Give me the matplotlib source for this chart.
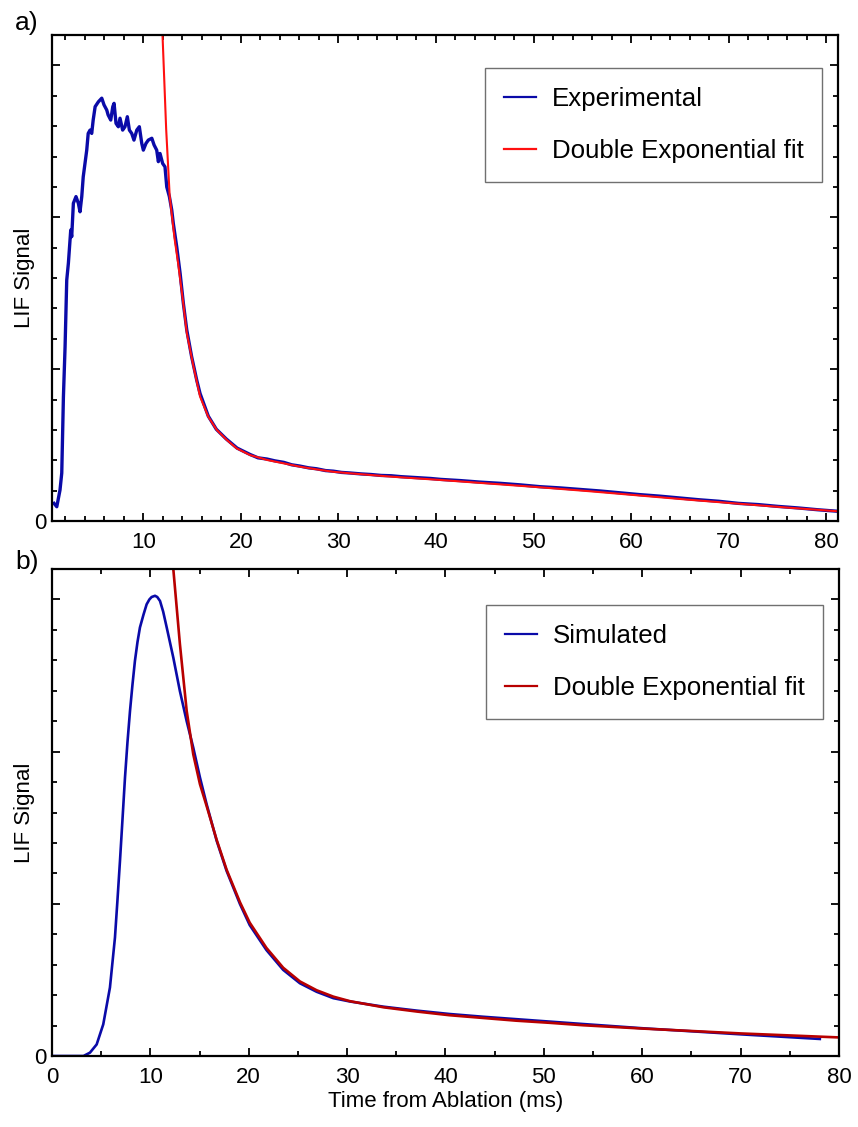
import matplotlib
matplotlib.use("Agg")
import matplotlib.pyplot as plt
from matplotlib.ticker import MultipleLocator, FixedLocator

plt.rcParams["font.family"] = ["Liberation Sans", "DejaVu Sans"]
plt.rcParams["font.size"] = 16

# ---- panel a: experimental trace (time in ms, arbitrary LIF units) ----
exp_t = [0.86, 1.14, 1.47, 1.65, 1.82, 1.99, 2.16, 2.33, 2.57, 2.67, 2.84, 3.11, 3.35,
         3.52, 3.70, 3.85, 4.21, 4.36, 4.55, 4.72, 4.87, 5.07, 5.40, 5.75, 5.98, 6.26,
         6.40, 6.67, 6.88, 7.01, 7.21, 7.45, 7.62, 7.89, 8.13, 8.37, 8.58, 8.82, 9.05,
         9.34, 9.60, 9.85, 10.01, 10.28, 10.52, 10.88, 11.11, 11.38, 11.55, 11.72,
         11.99, 12.23, 12.41, 12.68, 12.92, 13.08, 13.43, 13.78, 14.11, 14.46, 14.96,
         15.48, 15.82, 16.67, 17.49, 18.51, 19.62, 20.95, 21.76, 22.68, 23.49, 24.41,
         25.22, 26.03, 26.95, 27.76, 28.68, 29.49, 30.31, 31.22, 32.34, 33.36, 34.38,
         35.4, 36.41, 37.43, 38.45, 39.46, 40.48, 42.52, 44.55, 46.59, 48.62, 50.66,
         52.69, 54.73, 56.76, 58.8, 60.83, 62.87, 64.9, 66.94, 68.97, 71.0, 73.04,
         75.07, 77.11, 79.14, 81.18]
exp_y = [0.58, 0.47, 1.02, 1.58, 4.09, 5.74, 7.93, 8.49, 9.58, 9.36, 10.46, 10.68,
         10.46, 10.18, 10.68, 11.33, 12.21, 12.76, 12.87, 12.76, 13.2, 13.64, 13.8,
         13.92, 13.7, 13.53, 13.37, 13.2, 13.64, 13.75, 13.09, 12.98, 13.26, 12.87,
         12.98, 13.31, 12.87, 12.76, 12.54, 12.87, 12.98, 12.43, 12.21, 12.43, 12.54,
         12.6, 12.38, 12.21, 11.83, 12.1, 11.77, 11.66, 11.0, 10.68, 10.24, 9.8,
         9.03, 8.15, 7.17, 6.29, 5.41, 4.64, 4.2, 3.45, 3.02, 2.70, 2.40, 2.19,
         2.08, 2.04, 1.98, 1.93, 1.85, 1.81, 1.75, 1.72, 1.66, 1.64, 1.60, 1.58,
         1.55, 1.53, 1.50, 1.49, 1.46, 1.44, 1.42, 1.40, 1.37, 1.33, 1.28, 1.24,
         1.19, 1.13, 1.09, 1.04, 0.99, 0.93, 0.87, 0.82, 0.76, 0.70, 0.65, 0.58,
         0.54, 0.48, 0.43, 0.37, 0.32]

fit_a_t = [11.94, 12.35, 12.71, 13.21, 13.57, 14.09, 14.46, 15.14, 15.82, 16.67,
           17.53, 18.56, 19.58, 20.95, 22.68, 24.36, 26.03, 27.76, 29.49, 31.22,
           35.4, 40.48, 45.57, 50.66, 55.74, 60.83, 65.92, 71.0, 76.09, 81.18]
fit_a_y = [16.3, 12.9, 10.7, 9.3, 8.5, 7.2, 6.2, 5.1, 4.1, 3.43, 3.0, 2.67, 2.39,
           2.17, 2.01, 1.9, 1.79, 1.70, 1.62, 1.57, 1.46, 1.35, 1.23, 1.11, 0.98,
           0.84, 0.70, 0.57, 0.44, 0.32]

# ---- panel b: simulated trace ----
sim_t = [0, 3.2, 3.86, 4.54, 5.21, 5.89, 6.4, 6.65, 6.91, 7.17, 7.42, 7.67, 7.93,
         8.18, 8.43, 8.69, 8.94, 9.3, 9.62, 9.9, 10.13, 10.47, 10.7, 10.98, 11.3,
         11.66, 12.33, 13.0, 13.69, 14.36, 15.04, 15.72, 16.74, 17.75, 19.11, 20.1,
         21.8, 23.5, 25.2, 26.9, 28.6, 30.3, 33.7, 37.1, 40.4, 43.8, 47.2, 50.6,
         54.0, 60.1, 70.1, 78.05]
sim_y = [0, 0, 0.11, 0.38, 1.04, 2.25, 3.89, 5.1, 6.41, 7.8, 9.15, 10.3, 11.34,
         12.2, 12.98, 13.6, 14.08, 14.5, 14.84, 15.0, 15.08, 15.12, 15.08, 14.95,
         14.6, 14.08, 13.09, 11.99, 11.0, 10.13, 9.15, 8.27, 7.07, 6.08, 4.99, 4.3,
         3.48, 2.83, 2.39, 2.11, 1.9, 1.79, 1.62, 1.49, 1.38, 1.29, 1.21, 1.13,
         1.05, 0.91, 0.71, 0.56]

fit_b_t = [12.25, 13.0, 13.69, 14.36, 15.04, 15.72, 16.74, 17.75, 19.11, 20.1, 21.8,
           23.5, 25.2, 26.9, 28.6, 30.3, 33.7, 37.1, 40.4, 43.8, 47.2, 50.6, 54.0,
           60.1, 70.1, 80]
fit_b_y = [16.3, 13.54, 11.34, 9.91, 8.93, 8.21, 7.1, 6.12, 5.05, 4.38, 3.55, 2.9,
           2.45, 2.16, 1.95, 1.8, 1.6, 1.46, 1.34, 1.25, 1.16, 1.09, 1.01, 0.9,
           0.74, 0.61]

BLUE = "#0a0aa8"
RED_A = "#ff1010"
RED_B = "#b80000"

fig = plt.figure(figsize=(8.58, 11.27), dpi=100)
ax1 = fig.add_axes([52 / 858, 1 - 521 / 1127, 786 / 858, 486 / 1127])
ax2 = fig.add_axes([52 / 858, 1 - 1056 / 1127, 787 / 858, 487 / 1127])


def style_axis(ax, xminor):
    for sp in ax.spines.values():
        sp.set_linewidth(1.6)
    ax.set_ylim(0, 16)
    ax.yaxis.set_major_locator(FixedLocator([0, 5, 10, 15]))
    ax.set_yticklabels(["0", "", "", ""])
    ax.yaxis.set_minor_locator(MultipleLocator(1))
    ax.xaxis.set_minor_locator(MultipleLocator(xminor))
    ax.tick_params(which="both", direction="in", top=True, right=True, width=1.3)
    ax.tick_params(which="major", length=6)
    ax.tick_params(axis="x", which="major", pad=8)
    ax.tick_params(axis="y", which="major", pad=4)
    ax.tick_params(which="minor", length=3.5)
    ax.set_ylabel("LIF Signal", labelpad=-1)


ax1.plot(exp_t, exp_y, color=BLUE, lw=2.4, label="Experimental")
ax1.plot(fit_a_t, fit_a_y, color=RED_A, lw=1.5, label="Double Exponential fit")
ax1.set_xlim(0.65, 81.2)
ax1.xaxis.set_major_locator(FixedLocator([10, 20, 30, 40, 50, 60, 70, 80]))
style_axis(ax1, 2)

ax2.plot(sim_t, sim_y, color=BLUE, lw=1.9, label="Simulated")
ax2.plot(fit_b_t, fit_b_y, color=RED_B, lw=1.9, label="Double Exponential fit")
ax2.set_xlim(0, 80)
ax2.xaxis.set_major_locator(MultipleLocator(10))
style_axis(ax2, 5)
ax2.set_xlabel("Time from Ablation (ms)", labelpad=2)

for ax, top in ((ax1, 0.932), (ax2, 0.926)):
    leg = ax.legend(loc="upper right", bbox_to_anchor=(0.98, top), fancybox=False,
                    edgecolor="#707070", framealpha=1, fontsize=18.6,
                    handlelength=1.25, handletextpad=0.6, labelspacing=1.1,
                    borderpad=0.72, borderaxespad=0)
    leg.get_frame().set_linewidth(1.0)
    for h in leg.get_lines():
        h.set_linewidth(1.6)

fig.text(15 / 858, 1 - 23 / 1127, "a)", fontsize=19, va="center", ha="left")
fig.text(15 / 858, 1 - 562 / 1127, "b)", fontsize=19, va="center", ha="left")

fig.savefig("out.png", dpi=100)
